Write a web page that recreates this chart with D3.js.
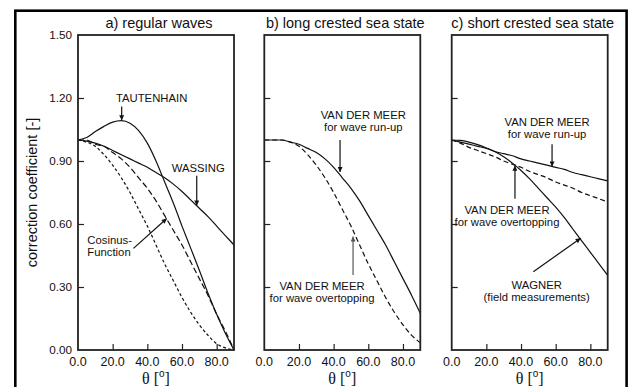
<!DOCTYPE html>
<html>
<head>
<meta charset="utf-8">
<script src="https://cdn.jsdelivr.net/npm/d3@7"></script>
<style>
  body { margin: 0; background: #fff; }
  text { font-family: Arial, "Liberation Sans", sans-serif; fill: #111; }
</style>
</head>
<body>
<svg id="chart" width="629" height="387"></svg>
<script>
// angle of wave attack theta [deg]
var theta = [0, 5, 10, 15, 20, 25, 30, 35, 40, 45, 50, 55, 60, 65, 70, 75, 80, 85, 90];

// a) regular waves
var tautenhain = [1.00, 1.012, 1.04, 1.065, 1.085, 1.092, 1.08, 1.045, 0.985, 0.90, 0.80, 0.70, 0.59, 0.485, 0.38, 0.27, 0.17, 0.08, 0.00];
var wassing    = [1.00, 0.995, 0.985, 0.97, 0.95, 0.93, 0.91, 0.89, 0.87, 0.845, 0.82, 0.79, 0.755, 0.715, 0.675, 0.635, 0.59, 0.545, 0.50];
var cosinus    = [1.00, 1.00, 0.98, 0.97, 0.94, 0.91, 0.87, 0.82, 0.77, 0.71, 0.64, 0.57, 0.50, 0.42, 0.34, 0.26, 0.17, 0.09, 0.00];
var cosinusSq  = [1.00, 0.99, 0.97, 0.93, 0.88, 0.82, 0.75, 0.67, 0.59, 0.50, 0.41, 0.33, 0.25, 0.18, 0.12, 0.07, 0.03, 0.01, 0.00];

// b) long crested sea state
var meerRunupLong = [1.00, 1.00, 1.00, 0.99, 0.98, 0.96, 0.94, 0.91, 0.87, 0.82, 0.77, 0.71, 0.64, 0.57, 0.50, 0.42, 0.34, 0.26, 0.175];
var meerOvertopLong = [1.00, 1.00, 1.00, 0.99, 0.97, 0.93, 0.88, 0.82, 0.75, 0.67, 0.59, 0.50, 0.41, 0.33, 0.25, 0.18, 0.12, 0.07, 0.035];

// c) short crested sea state
var meerRunupShort = [1.00, 0.99, 0.98, 0.97, 0.96, 0.945, 0.935, 0.925, 0.91, 0.90, 0.89, 0.88, 0.87, 0.86, 0.845, 0.835, 0.825, 0.815, 0.805];
var meerOvertopShort = [1.00, 0.985, 0.965, 0.95, 0.935, 0.92, 0.90, 0.885, 0.87, 0.85, 0.835, 0.82, 0.80, 0.785, 0.77, 0.75, 0.735, 0.72, 0.705];
var wagner = [1.00, 0.998, 0.99, 0.978, 0.962, 0.944, 0.92, 0.89, 0.855, 0.815, 0.77, 0.725, 0.68, 0.63, 0.575, 0.52, 0.465, 0.41, 0.355];

var panelTitles = ["a) regular waves", "b) long crested sea state", "c) short crested sea state"];
var yTicks = [0, 0.30, 0.60, 0.90, 1.20, 1.50];
var xTicks = [0, 20, 40, 60, 80];

var svg = d3.select("#chart");

// outer frame
svg.append("rect")
  .attr("x", 15.3).attr("y", 10.7)
  .attr("width", 611.3).attr("height", 380)
  .attr("fill", "none").attr("stroke", "#000").attr("stroke-width", 2.6);

svg.append("defs").selectAll("marker")
  .data([["head", "#111"], ["headGrey", "#555"]])
  .join("marker")
  .attr("id", function (d) { return d[0]; })
  .attr("viewBox", "0 0 10 10").attr("refX", 10).attr("refY", 5)
  .attr("markerUnits", "userSpaceOnUse")
  .attr("markerWidth", 7.5).attr("markerHeight", 5)
  .attr("orient", "auto")
  .append("path").attr("d", "M0,0 L10,5 L0,10 Z")
  .attr("fill", function (d) { return d[1]; });

var y = d3.scaleLinear().domain([0, 1.5]).range([350, 35]);
var panelLeft = [78, 264.3, 451.7];
var panelWidth = 156;

var panels = [
  {
    series: [
      { values: cosinusSq, dash: "3,2.4" },
      { values: cosinus, dash: "6,3" },
      { values: wassing, dash: null },
      { values: tautenhain, dash: null }
    ],
    notes: [
      { lines: ["TAUTENHAIN"], at: [21.9, 1.183], anchor: "start", arrow: [[25.2, 1.16], [25.2, 1.094]] },
      { lines: ["WASSING"], at: [54.1, 0.848], anchor: "start", arrow: [[68.5, 0.83], [68.5, 0.688]] },
      { lines: ["Cosinus-", "Function"], at: [5.4, 0.503], anchor: "start", arrow: [[32, 0.484], [51.2, 0.626]] }
    ]
  },
  {
    series: [
      { values: meerOvertopLong, dash: "5,3" },
      { values: meerRunupLong, dash: null }
    ],
    notes: [
      { lines: ["VAN DER MEER", "for wave run-up"], at: [57.1, 1.10], anchor: "middle", arrow: [[43.7, 1.0], [43.7, 0.848]] },
      { lines: ["VAN DER MEER", "for wave overtopping"], at: [33.3, 0.286], anchor: "middle", grey: true, arrow: [[51.2, 0.357], [51.2, 0.54]] }
    ]
  },
  {
    series: [
      { values: meerOvertopShort, dash: "5,3" },
      { values: wagner, dash: null },
      { values: meerRunupShort, dash: null }
    ],
    notes: [
      { lines: ["VAN DER MEER", "for wave run-up"], at: [55, 1.067], anchor: "middle", arrow: [[57.9, 0.98], [57.9, 0.874]] },
      { lines: ["VAN DER MEER", "for wave overtopping"], at: [31.9, 0.648], anchor: "middle", arrow: [[36.5, 0.72], [36.5, 0.877]] },
      { lines: ["WAGNER", "(field measurements)"], at: [49, 0.289], anchor: "middle", arrow: [[47.1, 0.373], [74.4, 0.532]] }
    ]
  }
];

panels.forEach(function (p, i) {
  var x = d3.scaleLinear().domain([0, 90]).range([panelLeft[i], panelLeft[i] + panelWidth]);
  var g = svg.append("g");

  // inward ticks
  var xAxis = d3.axisTop(x).tickValues(xTicks.slice(1)).tickSize(6).tickFormat("");
  g.append("g").attr("transform", "translate(0," + y(0) + ")").call(xAxis)
    .call(function (s) { s.select(".domain").remove(); s.selectAll("line").attr("stroke", "#222").attr("stroke-width", 1.2); });
  var yAxis = d3.axisRight(y).tickValues(yTicks.slice(1, -1)).tickSize(6).tickFormat("");
  g.append("g").attr("transform", "translate(" + x(0) + ",0)").call(yAxis)
    .call(function (s) { s.select(".domain").remove(); s.selectAll("line").attr("stroke", "#222").attr("stroke-width", 1.2); });

  // tick labels
  g.selectAll(".xl").data(xTicks).join("text")
    .attr("x", function (d) { return x(d); }).attr("y", 366)
    .attr("text-anchor", "middle").attr("font-size", 12.5)
    .text(function (d) { return d3.format(".1f")(d); });
  if (i === 0) {
    g.selectAll(".yl").data(yTicks).join("text")
      .attr("x", 72).attr("y", function (d) { return y(d); }).attr("dy", "0.35em")
      .attr("text-anchor", "end").attr("font-size", 11.7)
      .text(function (d) { return d3.format(".2f")(d); });
  }

  // curves
  var line = d3.line()
    .x(function (d, k) { return x(theta[k]); })
    .y(function (d) { return y(d); })
    .curve(d3.curveMonotoneX);
  g.selectAll(".curve").data(p.series).join("path")
    .attr("d", function (s) { return line(s.values); })
    .attr("fill", "none").attr("stroke", "#111").attr("stroke-width", 1.2)
    .attr("stroke-dasharray", function (s) { return s.dash; });

  // frame
  g.append("rect")
    .attr("x", x(0)).attr("y", y(1.5))
    .attr("width", panelWidth).attr("height", y(0) - y(1.5))
    .attr("fill", "none").attr("stroke", "#222").attr("stroke-width", 1.8);

  // title
  g.append("text")
    .attr("x", x(45) + 3).attr("y", 28)
    .attr("text-anchor", "middle").attr("font-size", 14.5)
    .text(panelTitles[i]);

  // axis title
  var xt = g.append("text")
    .attr("x", x(45)).attr("y", 383.5)
    .attr("text-anchor", "middle").attr("font-size", 16);
  xt.append("tspan").attr("font-family", "'Liberation Serif', 'Times New Roman', serif").text("\u03b8 [");
  xt.append("tspan").attr("font-size", 10).attr("dy", -7).text("o");
  xt.append("tspan").attr("font-family", "'Liberation Serif', 'Times New Roman', serif").attr("dy", 7).text("]");

  // annotations
  p.notes.forEach(function (n) {
    var t = g.append("text")
      .attr("x", x(n.at[0])).attr("y", y(n.at[1]))
      .attr("text-anchor", n.anchor).attr("font-size", 11.3);
    n.lines.forEach(function (s, k) {
      t.append("tspan").attr("x", x(n.at[0])).attr("dy", k === 0 ? 0 : 12).text(s);
    });
    g.append("line")
      .attr("x1", x(n.arrow[0][0])).attr("y1", y(n.arrow[0][1]))
      .attr("x2", x(n.arrow[1][0])).attr("y2", y(n.arrow[1][1]))
      .attr("stroke", n.grey ? "#555" : "#111").attr("stroke-width", 1.2)
      .attr("marker-end", n.grey ? "url(#headGrey)" : "url(#head)");
  });
});

svg.append("text")
  .attr("transform", "translate(36.5,192.5) rotate(-90)")
  .attr("text-anchor", "middle").attr("font-size", 14.5)
  .text("correction coefficient [-]");
</script>
</body>
</html>
